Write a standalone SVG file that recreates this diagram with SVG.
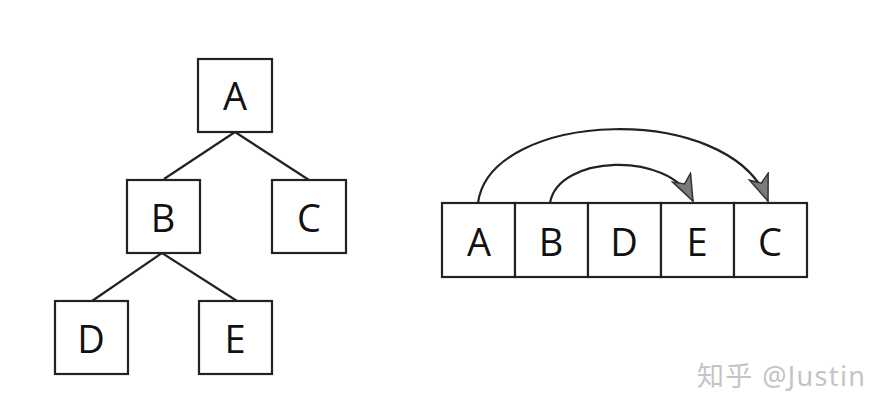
<svg xmlns="http://www.w3.org/2000/svg" width="876" height="408" viewBox="0 0 876 408">
<style>
.box{fill:#fff;stroke:#222;stroke-width:2.2}
.lbl{font-family:"Open Sans","DejaVu Sans",sans-serif;font-size:38px;fill:#111;text-anchor:middle}
.edge{stroke:#222;stroke-width:2.2;fill:none}
.wm{font-family:"Noto Sans","Noto Sans CJK SC",sans-serif;font-size:27px;fill:#c4c4c4}
</style>
<defs>
<marker id="arr" markerUnits="userSpaceOnUse" markerWidth="30" markerHeight="24" refX="27" refY="11" orient="auto" viewBox="0 0 30 24">
<path d="M27,11 L1,1 L8,11 L1,21 Z" fill="#7a7a7a" stroke="#333" stroke-width="1.5" stroke-linejoin="miter"/>
</marker>
</defs>
<rect width="876" height="408" fill="#fff"/>
<g id="connectors">
<line class="edge" x1="235" y1="132" x2="164" y2="179"/>
<line class="edge" x1="235" y1="132" x2="309" y2="180"/>
<line class="edge" x1="162" y1="253" x2="92" y2="301"/>
<line class="edge" x1="162" y1="253" x2="237" y2="301"/>
<path class="edge" d="M478,203 C490,110 730,100 768,201" marker-end="url(#arr)"/>
<path class="edge" d="M550,203 C558,155 668,150 693,201" marker-end="url(#arr)"/>
</g>
<g id="tA"><rect class="box" x="198" y="59" width="74" height="73"/><text class="lbl" x="235" y="110">A</text></g>
<g id="tB"><rect class="box" x="127" y="180" width="73" height="73"/><text class="lbl" x="163" y="232">B</text></g>
<g id="tC"><rect class="box" x="272" y="180" width="74" height="73"/><text class="lbl" x="309" y="232">C</text></g>
<g id="tD"><rect class="box" x="55" y="301" width="73" height="73"/><text class="lbl" x="91" y="353">D</text></g>
<g id="tE"><rect class="box" x="199" y="301" width="73" height="73"/><text class="lbl" x="235" y="353">E</text></g>
<g id="aA"><rect class="box" x="442" y="203" width="73" height="74"/><text class="lbl" x="479" y="256">A</text></g>
<g id="aB"><rect class="box" x="515" y="203" width="73" height="74"/><text class="lbl" x="551" y="256">B</text></g>
<g id="aD"><rect class="box" x="588" y="203" width="73" height="74"/><text class="lbl" x="624" y="256">D</text></g>
<g id="aE"><rect class="box" x="661" y="203" width="73" height="74"/><text class="lbl" x="697" y="256">E</text></g>
<g id="aC"><rect class="box" x="734" y="203" width="73" height="74"/><text class="lbl" x="770" y="256">C</text></g>
<text class="wm" x="697" y="386" textLength="168">知乎 @Justin</text>
</svg>
